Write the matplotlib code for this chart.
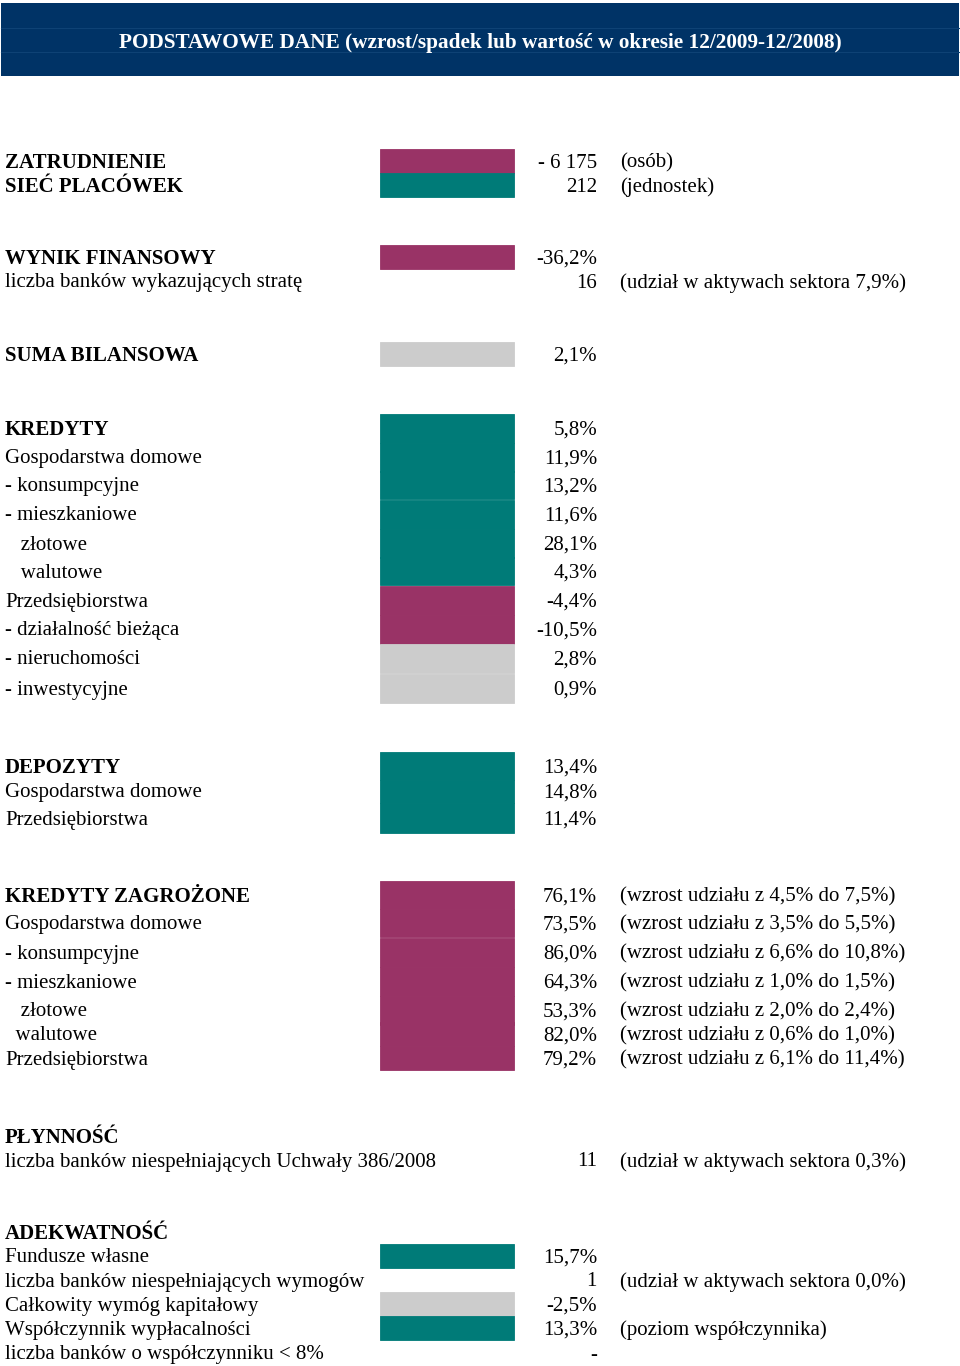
import matplotlib.pyplot as plt
from matplotlib.patches import Rectangle

plt.rcParams['font.family'] = ['Liberation Serif', 'DejaVu Serif']

title = 'PODSTAWOWE DANE (wzrost/spadek lub wartość w okresie 12/2009-12/2008)'

labels = ['ZATRUDNIENIE', 'SIEĆ PLACÓWEK',
          'WYNIK FINANSOWY', 'liczba banków wykazujących stratę',
          'SUMA BILANSOWA',
          'KREDYTY', 'Gospodarstwa domowe', '- konsumpcyjne', '- mieszkaniowe',
          '   złotowe', '   walutowe', 'Przedsiębiorstwa', '- działalność bieżąca',
          '- nieruchomości', '- inwestycyjne',
          'DEPOZYTY', 'Gospodarstwa domowe', 'Przedsiębiorstwa',
          'KREDYTY ZAGROŻONE', 'Gospodarstwa domowe', '- konsumpcyjne',
          '- mieszkaniowe', '   złotowe', '  walutowe', 'Przedsiębiorstwa',
          'PŁYNNOŚĆ', 'liczba banków niespełniających Uchwały 386/2008',
          'ADEKWATNOŚĆ', 'Fundusze własne', 'liczba banków niespełniających wymogów',
          'Całkowity wymóg kapitałowy', 'Współczynnik wypłacalności',
          'liczba banków o współczynniku < 8%']

bold = [1, 1, 1, 0, 1, 1, 0, 0, 0, 0, 0, 0, 0, 0, 0, 1, 0, 0,
        1, 0, 0, 0, 0, 0, 0, 1, 0, 1, 0, 0, 0, 0, 0]

values = ['- 6 175', '212', '-36,2%', '16', '2,1%',
          '5,8%', '11,9%', '13,2%', '11,6%', '28,1%', '4,3%', '-4,4%', '-10,5%',
          '2,8%', '0,9%',
          '13,4%', '14,8%', '11,4%',
          '76,1%', '73,5%', '86,0%', '64,3%', '53,3%', '82,0%', '79,2%',
          '', '11',
          '', '15,7%', '1', '-2,5%', '13,3%', '-']

notes = ['(osób)', '(jednostek)', '', '(udział w aktywach sektora 7,9%)', '',
         '', '', '', '', '', '', '', '', '', '',
         '', '', '',
         '(wzrost udziału z 4,5% do 7,5%)', '(wzrost udziału z 3,5% do 5,5%)',
         '(wzrost udziału z 6,6% do 10,8%)', '(wzrost udziału z 1,0% do 1,5%)',
         '(wzrost udziału z 2,0% do 2,4%)', '(wzrost udziału z 0,6% do 1,0%)',
         '(wzrost udziału z 6,1% do 11,4%)',
         '', '(udział w aktywach sektora 0,3%)',
         '', '', '(udział w aktywach sektora 0,0%)', '', '(poziom współczynnika)', '']

# u = favourable, d = unfavourable, n = neutral, '' = no bar
trend = ['d', 'u', 'd', '', 'n',
         'u', 'u', 'u', 'u', 'u', 'u', 'd', 'd', 'n', 'n',
         'u', 'u', 'u',
         'd', 'd', 'd', 'd', 'd', 'd', 'd',
         '', '',
         '', 'u', '', 'n', 'u', '']

# layout (pixels from top)
row_y = [161, 185, 257, 281, 354,
         428, 457, 485, 514, 543, 571, 600, 629, 658, 688,
         766, 791, 818,
         895, 923, 952, 981, 1010, 1034, 1058,
         1136, 1160,
         1232, 1256, 1280, 1304, 1328, 1353]
row_h = [24, 24, 24, 24, 24,
         29, 29, 28, 29, 29, 28, 29, 29, 29, 29,
         28, 23, 30,
         28, 28, 29, 29, 29, 24, 24,
         24, 24,
         24, 24, 24, 24, 24, 24]

colors = {'u': '#007B78', 'd': '#993366', 'n': '#CCCCCC'}
fs = 15
dy = 2

fig = plt.figure(figsize=(9.6, 13.66), dpi=100)
ax = fig.add_axes([0, 0, 1, 1])
ax.set_xlim(0, 960)
ax.set_ylim(1366, 0)
ax.axis('off')

# header band
ax.add_patch(Rectangle((1, 3), 958, 73, color='#003366', lw=0))
for yy in (28, 52):
    ax.plot([1, 959], [yy, yy], color='#0E4275', lw=0.8)
ax.text(480, 41 + dy, title, color='white', fontsize=15.3, fontweight='bold',
        ha='center', va='center')

bar_y = [y for y, t in zip(row_y, trend) if t]
bar_h = [h for h, t in zip(row_h, trend) if t]
bar_c = [colors[t] for t in trend if t]
ax.barh(bar_y, [134] * len(bar_y), height=bar_h, left=380, color=bar_c,
        edgecolor=bar_c, linewidth=0.6)

for y, lab, b, v, n in zip(row_y, labels, bold, values, notes):
    ax.text(5, y + dy, lab, fontsize=fs, fontweight='bold' if b else 'normal',
            va='center', ha='left', color='black')
    if v:
        ax.text(597, y + dy, v, fontsize=fs, va='center', ha='right')
    if n:
        ax.text(620, y + dy, n, fontsize=fs, va='center', ha='left')

fig.savefig('out.png', dpi=100)
